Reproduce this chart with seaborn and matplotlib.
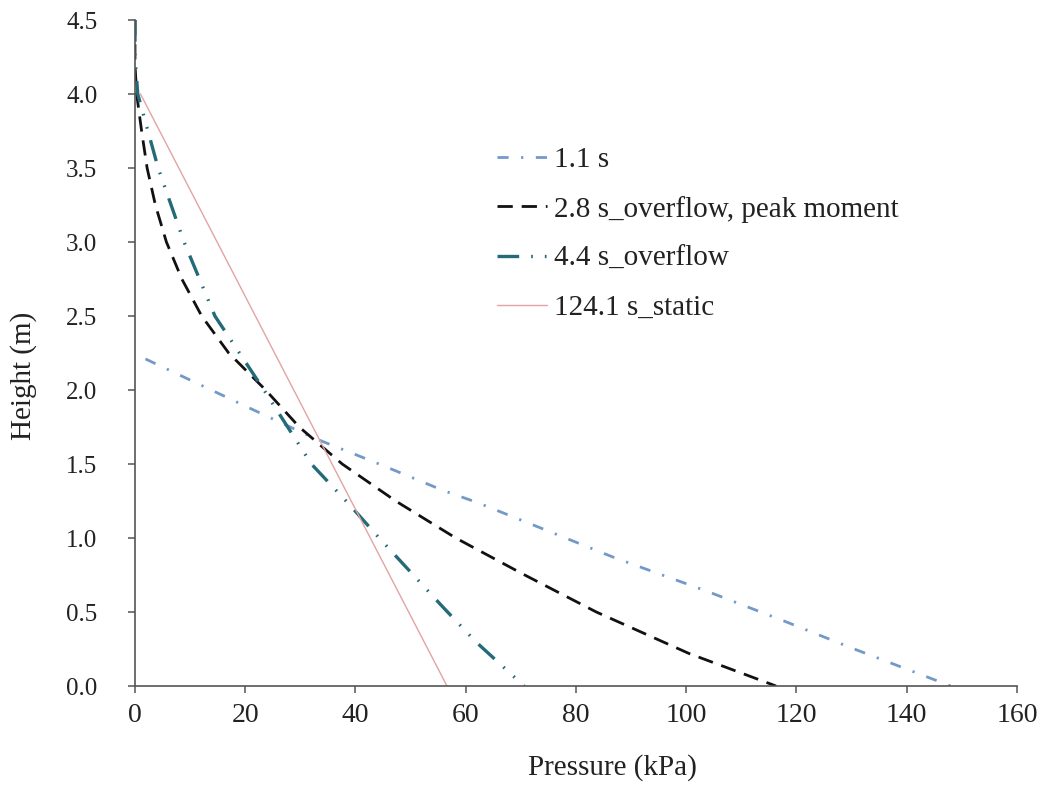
import matplotlib
matplotlib.use("Agg")
import matplotlib.pyplot as plt
import seaborn as sns
import pandas as pd

# Pressure profiles (kPa) against height (m) at four instants
labels = ["1.1 s", "2.8 s_overflow, peak moment", "4.4 s_overflow", "124.1 s_static"]

p_11 = [1.9, 20.1, 32.2, 44.3, 56.0, 62.1, 86.8, 103.8, 117.7, 129.8, 148.0]
h_11 = [2.21, 1.89, 1.68, 1.50, 1.32, 1.24, 0.87, 0.64, 0.44, 0.26, 0.0]

p_28 = [0.0, 0.0, 0.3, 1.2, 2.2, 3.7, 5.7, 8.5, 12.1, 17.0, 23.7, 29.8, 37.6, 47.3, 58.2, 70.2, 83.7, 100.5, 116.3]
h_28 = [4.5, 4.2, 4.0, 3.75, 3.5, 3.25, 3.0, 2.75, 2.5, 2.25, 2.0, 1.75, 1.5, 1.25, 1.0, 0.76, 0.5, 0.22, 0.0]

p_44 = [0.0, 0.0, 0.5, 4.2, 8.9, 14.5, 23.4, 32.0, 38.8, 44.3, 55.7, 61.8, 70.6]
h_44 = [4.5, 4.25, 4.0, 3.5, 3.0, 2.5, 2.0, 1.5, 1.23, 1.0, 0.54, 0.3, 0.0]

p_124 = [1.0, 56.6]
h_124 = [4.0, 0.0]

x_ticks = [0, 20, 40, 60, 80, 100, 120, 140, 160]
y_ticks = [0.0, 0.5, 1.0, 1.5, 2.0, 2.5, 3.0, 3.5, 4.0, 4.5]

series = [
    (p_11, h_11, labels[0], "#7399c9", 2.0, (0, (4.0, 4.5, 0.8, 4.5))),
    (p_28, h_28, labels[1], "#111111", 2.0, (0, (5.5, 3.2))),
    (p_44, h_44, labels[2], "#246a78", 2.4, (0, (6.5, 3.6, 0.5, 3.6, 0.5, 3.6))),
    (p_124, h_124, labels[3], "#e3a3a3", 1.0, "-"),
]

sns.set_theme(style="white")
plt.rcParams["font.family"] = ["Liberation Serif", "DejaVu Serif"]

fig = plt.figure(figsize=(10.44, 7.88), dpi=100)
ax = fig.add_axes([0.1293, 0.1294, 0.8448, 0.8452])

for p, h, lab, col, lw, ls in series:
    df = pd.DataFrame({"p": p, "h": h})
    sns.lineplot(data=df, x="p", y="h", sort=False, estimator=None, color=col,
                 linewidth=lw, linestyle=ls, label=lab, ax=ax)

ax.set_xlim(0, 160)
ax.set_ylim(0, 4.5)
ax.set_xticks(x_ticks)
ax.set_xticklabels([str(v) for v in x_ticks])
ax.set_yticks(y_ticks)
ax.set_yticklabels([f"{v:.1f}" for v in y_ticks])

for side in ["top", "right"]:
    ax.spines[side].set_visible(False)
for side in ["left", "bottom"]:
    ax.spines[side].set_color("#555555")
    ax.spines[side].set_linewidth(1.2)

ax.tick_params(axis="both", direction="out", length=5, width=1.1, color="#555555",
               labelcolor="#222222", bottom=True, left=True)
ax.tick_params(axis="x", labelsize=20, pad=7)
ax.tick_params(axis="y", labelsize=18, pad=22)

ax.set_xlabel("Pressure (kPa)", fontsize=21, color="#222222")
ax.set_ylabel("Height (m)", fontsize=21, color="#222222")
ax.xaxis.set_label_coords(0.541, -0.102)
ax.yaxis.set_label_coords(-0.111, 0.465)

ax.legend(loc="upper left", bbox_to_anchor=(0.394, 0.832), frameon=False,
          borderpad=0, fontsize=21, handlelength=1.7, handletextpad=0.25,
          labelspacing=0.78, labelcolor="#222222")

fig.savefig("out.png", dpi=100, facecolor="white")
